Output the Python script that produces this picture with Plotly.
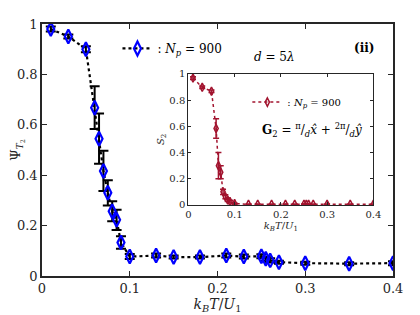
import plotly.graph_objects as go

# ---- data ----
kT_main = [0.01, 0.03, 0.05, 0.06, 0.065, 0.07, 0.075, 0.08, 0.085, 0.09, 0.10,
           0.13, 0.15, 0.18, 0.21, 0.23, 0.25, 0.255, 0.26, 0.27, 0.30, 0.35, 0.40]
psi_T2 = [0.98, 0.95, 0.90, 0.668, 0.545, 0.417, 0.33, 0.257, 0.223, 0.133, 0.077,
          0.081, 0.075, 0.075, 0.081, 0.077, 0.078, 0.068, 0.062, 0.055, 0.051, 0.049, 0.051]
psi_err = [0.01, 0.008, 0.012, 0.085, 0.1, 0.08, 0.05, 0.04, 0.04, 0.025, 0.01,
           0.008, 0.006, 0.006, 0.008, 0.008, 0.008, 0.008, 0.008, 0.006, 0.006, 0.006, 0.008]

kT_inset = [0.01, 0.03, 0.05, 0.06, 0.065, 0.07, 0.075, 0.08, 0.085, 0.09, 0.10,
            0.13, 0.15, 0.18, 0.21, 0.23, 0.25, 0.255, 0.26, 0.27, 0.30, 0.35, 0.40]
S2 = [0.968, 0.898, 0.868, 0.583, 0.30, 0.25, 0.10, 0.062, 0.037, 0.025, 0.01,
      0.005, 0.005, 0.005, 0.005, 0.005, 0.005, 0.005, 0.005, 0.005, 0.005, 0.005, 0.005]
S2_err = [0.01, 0.01, 0.01, 0.075, 0.1, 0.05, 0.02, 0.015, 0.01, 0.01, 0.005,
          0.003, 0.003, 0.003, 0.003, 0.003, 0.003, 0.003, 0.003, 0.003, 0.003, 0.003, 0.003]

xticks = [0, 0.1, 0.2, 0.3, 0.4]
xtick_text = ["0", "0.1", "0.2", "0.3", "0.4"]
yticks = [0, 0.2, 0.4, 0.6, 0.8, 1]
ytick_text = ["0", "0.2", "0.4", "0.6", "0.8", "1"]

BLUE = "#0000FF"
RED = "#A2142F"
AX = "#262626"
SERIF = "DejaVu Serif"

fig = go.Figure()

fig.add_trace(go.Scatter(
    x=kT_main, y=psi_T2, mode="lines+markers",
    name=": <i>N<sub>p</sub></i> = 900",
    line=dict(color="black", width=2.2, dash="dot"),
    marker=dict(symbol="diamond-tall-open", size=10, color=BLUE, line=dict(width=2.2, color=BLUE)),
    error_y=dict(type="data", array=psi_err, visible=True, color="black", thickness=2, width=5),
    xaxis="x", yaxis="y", legend="legend",
))

fig.add_trace(go.Scatter(
    x=kT_inset, y=S2, mode="lines+markers",
    name=": <i>N<sub>p</sub></i> = 900",
    line=dict(color=RED, width=1.5, dash="dot"),
    marker=dict(symbol="diamond-tall-open", size=6, color=RED, line=dict(width=1.5, color=RED)),
    error_y=dict(type="data", array=S2_err, visible=True, color=RED, thickness=1.5, width=3),
    xaxis="x2", yaxis="y2", legend="legend2",
))

axis_common = dict(showline=True, linecolor=AX, mirror="ticks", ticks="inside",
                   tickcolor=AX, showgrid=False, zeroline=False)

fig.update_layout(
    width=412, height=307,
    margin=dict(l=34, r=27, t=10, b=39),
    paper_bgcolor="white", plot_bgcolor="white",
    font=dict(family=SERIF, color=AX),
    xaxis=dict(domain=[0, 1], range=[0, 0.4], tickvals=xticks, ticktext=xtick_text,
               linewidth=1.5, ticklen=5,
               tickfont=dict(size=13, family=SERIF, color=AX), automargin=False,
               title=dict(text="<i>k<sub>B</sub>T</i>/<i>U</i><sub>1</sub>",
                          font=dict(size=14, family=SERIF, color=AX), standoff=0),
               **axis_common),
    yaxis=dict(domain=[0, 1], range=[0, 1], tickvals=yticks, ticktext=ytick_text,
               linewidth=1.5, ticklen=5, automargin=False,
               tickfont=dict(size=13, family=SERIF, color=AX),
               title=dict(text="Ψ<sub><i>T</i><sub>2</sub></sub>",
                          font=dict(size=13, family=SERIF, color=AX), standoff=4),
               **axis_common),
    xaxis2=dict(domain=[0.417, 0.944], range=[0, 0.4], tickvals=xticks, ticktext=xtick_text,
                anchor="y2", linewidth=1.2, ticklen=3,
                tickfont=dict(size=10, family=SERIF, color=AX),
                title=dict(text="<i>k<sub>B</sub>T</i>/<i>U</i><sub>1</sub>",
                           font=dict(size=10, family=SERIF, color=AX), standoff=1),
                **axis_common),
    yaxis2=dict(domain=[0.282, 0.802], range=[0, 1], tickvals=yticks, ticktext=ytick_text,
                anchor="x2", linewidth=1.2, ticklen=3,
                tickfont=dict(size=10, family=SERIF, color=AX),
                title=dict(text="<i>S</i><sub>2</sub>",
                           font=dict(size=10, family=SERIF, color=AX), standoff=2),
                **axis_common),
    legend=dict(x=0.215, y=0.903, xanchor="left", yanchor="middle",
                bgcolor="rgba(0,0,0,0)", font=dict(size=12, family=SERIF, color="black"),
                itemwidth=30),
    legend2=dict(x=0.585, y=0.69, xanchor="left", yanchor="middle",
                 bgcolor="rgba(0,0,0,0)", font=dict(size=10, family=SERIF, color="black"),
                 itemwidth=30),
    showlegend=True,
)

fig.add_annotation(x=0.727, y=0.903, xref="paper", yref="paper",
                   text="<i>d</i> = 5<i>λ</i>", showarrow=False,
                   font=dict(size=12, family=SERIF, color="black"))
fig.add_annotation(x=0.952, y=0.942, xref="paper", yref="paper",
                   text="<b>(ii)</b>", showarrow=False,
                   font=dict(size=12, family=SERIF, color="black"))
fig.add_annotation(x=0.62, y=0.581, xref="paper", yref="paper", xanchor="left",
                   text="<b>G</b><sub>2</sub> = <sup>π</sup>/<sub><i>d</i></sub><i>x̂</i> + <sup>2π</sup>/<sub><i>d</i></sub><i>ŷ</i>",
                   showarrow=False,
                   font=dict(size=12, family=SERIF, color="black"))

fig.write_html("out.html")
